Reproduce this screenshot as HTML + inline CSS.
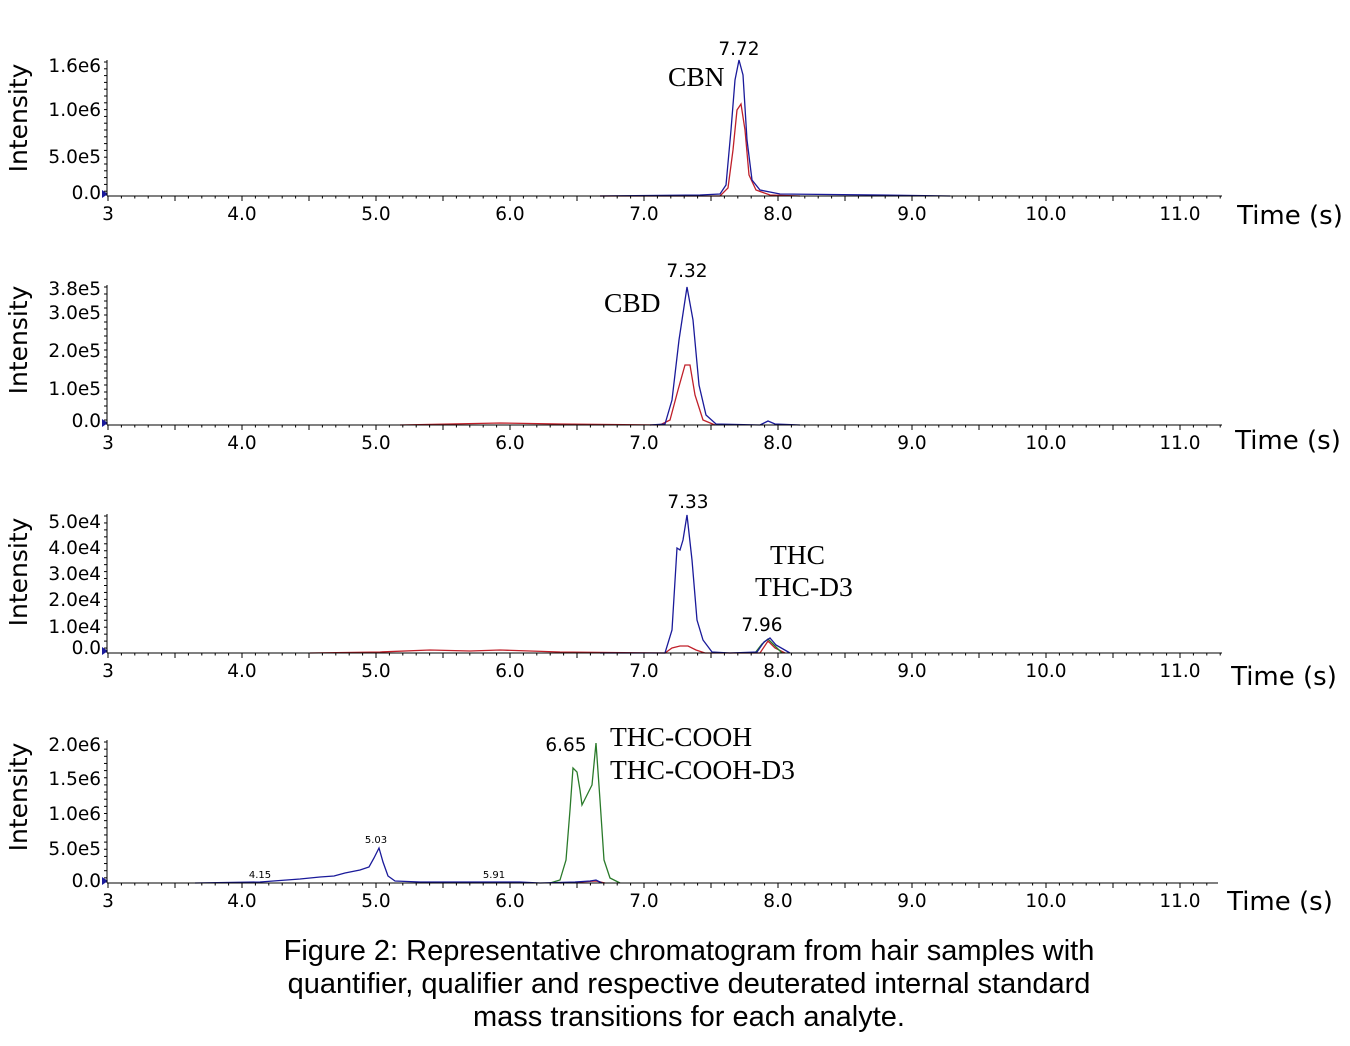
<!DOCTYPE html>
<html><head><meta charset="utf-8"><style>
html,body{margin:0;padding:0;background:#fff}
svg{display:block}
.t{font-family:"DejaVu Sans","Liberation Sans",sans-serif;font-size:18.5px;fill:#000}
.s{font-family:"Liberation Serif",serif;font-size:27.5px;fill:#000}
.cap{font-family:"Liberation Sans",sans-serif;font-size:29px;fill:#000}
</style></head><body>
<svg id="g" width="1350" height="1046" viewBox="0 0 1350 1046" xmlns="http://www.w3.org/2000/svg">
<g fill="none" stroke-width="1.3">
<path stroke="#c0202a" d="M600,196 L720,196 L728,188 L733,150 L737,110 L741,104 L745,130 L749,175 L756,190 L770,195 L800,196"/>
<path stroke="#1a1a9a" d="M600,196 L700,195 L720,194 L726,185 L731,130 L735,80 L739,60 L743,75 L747,140 L752,180 L760,190 L780,194 L880,195 L950,196"/>
<path stroke="#c0202a" d="M400,425 L450,424 L500,423 L560,424 L660,425 L670,420 L678,390 L685,365 L690,365 L695,395 L703,420 L715,425"/>
<path stroke="#1a1a9a" d="M650,425 L665,424 L672,400 L679,340 L687,287 L693,320 L699,385 L706,415 L716,424 L760,425 L768,421 L775,424 L800,425"/>
<path stroke="#c0202a" d="M310,653 L380,652 L430,650 L470,651 L500,650 L560,652 L665,653 L672,648 L680,646 L688,646 L696,650 L705,653 L760,653 L768,641 L775,648 L785,653"/>
<path stroke="#2a7a2a" d="M755,653 L762,644 L768,639 L774,645 L782,653"/>
<path stroke="#1a1a9a" d="M600,653 L665,653 L672,630 L677,548 L680,550 L683,540 L687,515 L692,560 L697,620 L703,640 L712,652 L730,653 L757,652 L764,642 L770,638 L776,645 L790,653"/>
<path stroke="#2a7a2a" d="M550,883 L560,880 L566,860 L570,810 L573,768 L577,772 L580,790 L582,805 L587,795 L592,785 L596,743 L600,800 L604,860 L610,878 L620,883"/>
<path stroke="#c0202a" d="M560,883 L580,882 L596,881 L605,883"/>
<path stroke="#1a1a9a" d="M195,883 L260,882 L300,879 L320,877 L334,876 L345,873 L360,870 L369,867 L374,858 L379,848 L383,862 L388,876 L395,881 L420,882 L480,882 L520,882 L540,883 L575,882 L590,881 L596,880 L602,883"/>
</g>
<g class="t" id="ticks"></g>
<g stroke="#000" stroke-width="1" id="axes"></g>
<g class="t">
<text x="739" y="55" text-anchor="middle">7.72</text>
<text x="687" y="277" text-anchor="middle">7.32</text>
<text x="688" y="508" text-anchor="middle">7.33</text>
<text x="762" y="631" text-anchor="middle">7.96</text>
<text x="566" y="751" text-anchor="middle">6.65</text>
<text x="376" y="843" text-anchor="middle" style="font-size:10px">5.03</text>
<text x="260" y="878" text-anchor="middle" style="font-size:10px">4.15</text>
<text x="494" y="878" text-anchor="middle" style="font-size:10px">5.91</text>
</g>
<g class="s">
<text x="668" y="86">CBN</text>
<text x="604" y="312">CBD</text>
<text x="770" y="564">THC</text>
<text x="755" y="596">THC-D3</text>
<text x="610" y="746">THC-COOH</text>
<text x="610" y="779">THC-COOH-D3</text>
</g>
<g class="cap" text-anchor="middle">
<text x="689" y="960">Figure 2: Representative chromatogram from hair samples with</text>
<text x="689" y="993">quantifier, qualifier and respective deuterated internal standard</text>
<text x="689" y="1026">mass transitions for each analyte.</text>
</g>
</svg>
<script>
var NS="http://www.w3.org/2000/svg";
function el(p,n,a,t){var e=document.createElementNS(NS,n);for(var k in a)e.setAttribute(k,a[k]);if(t)e.textContent=t;document.getElementById(p).appendChild(e);return e;}
var panels=[
 {ay:196,top:60,xe:1222,tx:1290,ty:224,labs:[["1.6e6",66],["1.0e6",110],["5.0e5",157],["0.0",193]],iy:118},
 {ay:425,top:285,xe:1222,tx:1288,ty:449,labs:[["3.8e5",289],["3.0e5",313],["2.0e5",351],["1.0e5",389],["0.0",421]],iy:340},
 {ay:653,top:514,xe:1222,tx:1284,ty:685,labs:[["5.0e4",522],["4.0e4",548],["3.0e4",574],["2.0e4",600],["1.0e4",627],["0.0",648]],iy:572},
 {ay:883,top:740,xe:1218,tx:1280,ty:910,labs:[["2.0e6",745],["1.5e6",779],["1.0e6",814],["5.0e5",849],["0.0",881]],iy:797}
];
panels.forEach(function(p){
 el("axes","line",{x1:107,y1:p.ay,x2:p.xe,y2:p.ay});
 el("axes","line",{x1:107,y1:p.top,x2:107,y2:p.ay});
 for(var i=0;;i++){var v=3+i*0.1;var x=108+(v-3)*134;if(x>p.xe)break;
  var maj=(i%5==0);el("axes","line",{x1:x,y1:p.ay,x2:x,y2:p.ay+(maj?5:2.5)});}
 for(var y=p.top+2;y<p.ay;y+=(p.ay-p.top)/20){el("axes","line",{x1:104,y1:y,x2:107,y2:y});}
 p.labs.forEach(function(l){el("ticks","text",{x:101,y:l[1]+6,"text-anchor":"end"},l[0]);});
 el("ticks","text",{x:108,y:p.ay+24,"text-anchor":"middle"},"3");
 for(var v=4;v<=11;v++){el("ticks","text",{x:108+(v-3)*134,y:p.ay+24,"text-anchor":"middle"},v+".0");}
 el("ticks","text",{x:p.tx,y:p.ty,"text-anchor":"middle",style:"font-size:26px"},"Time (s)");
 el("ticks","text",{x:0,y:0,"text-anchor":"middle",style:"font-size:25px",transform:"translate(27,"+p.iy+") rotate(-90)"},"Intensity");
 el("ticks","path",{d:"M102,"+(p.ay-6)+" L108,"+(p.ay-2)+" L102,"+(p.ay+2)+"Z",fill:"#1a1a9a"});
});
</script>
</body></html>
